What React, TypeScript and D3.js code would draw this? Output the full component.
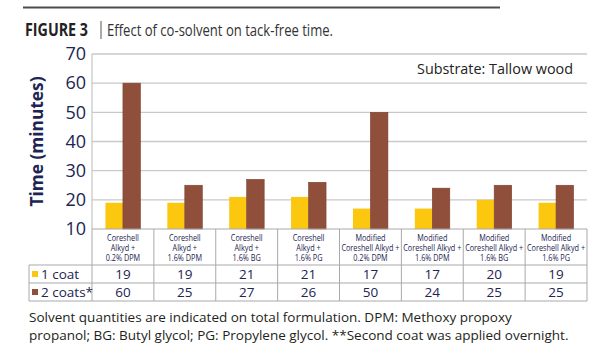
import React from 'react';
import * as d3 from 'd3';

const categories = [
    ['Coreshell', 'Alkyd +', '0.2% DPM'],
    ['Coreshell', 'Alkyd +', '1.6% DPM'],
    ['Coreshell', 'Alkyd +', '1.6% BG'],
    ['Coreshell', 'Alkyd +', '1.6% PG'],
    ['Modified', 'Coreshell Alkyd +', '0.2% DPM'],
    ['Modified', 'Coreshell Alkyd +', '1.6% DPM'],
    ['Modified', 'Coreshell Alkyd +', '1.6% BG'],
    ['Modified', 'Coreshell Alkyd +', '1.6% PG'],
];
const seriesNames = ['1 coat', '2 coats*'];
const oneCoat = [19, 19, 21, 21, 17, 17, 20, 19];
const twoCoats = [60, 25, 27, 26, 50, 24, 25, 25];
const yTicks = [10, 20, 30, 40, 50, 60, 70];
const footnote = [
    'Solvent quantities are indicated on total formulation. DPM: Methoxy propoxy',
    'propanol; BG: Butyl glycol; PG: Propylene glycol. **Second coat was applied overnight.',
];

const W = 615, H = 350;
const navy = '#1d2553';
const colors = ['#fcc70f', '#8f4f3b'];
const gridColor = '#c9c9c9';
const font = '"Open Sans", sans-serif';

const App: React.FC = () => {
    const left = 92, right = 587, top = 54, bottom = 229;
    const tableLeft = 29;
    const rowTops = [bottom, 265, 283, 301];

    const ids = categories.map((_, i) => String(i));
    const x = d3.scaleBand().domain(ids).range([left, right]);
    const xs = d3.scaleBand().domain(seriesNames).range([0, x.bandwidth()]).paddingOuter(0.77);
    const y = d3.scaleLinear().domain([10, 70]).range([bottom, top]);
    const series = [oneCoat, twoCoats];

    return (
        <svg width={W} height={H} style={{ position: 'absolute', left: 0, top: 0, background: '#fff' }}
            fontFamily={font}>
            <line x1={23} x2={500} y1={7.5} y2={7.5} stroke="#4d4d4d" strokeWidth={2} />
            <text x={25} y={36} fontSize={18} fontWeight={700} fill="#222" textLength={63}
                lengthAdjust="spacingAndGlyphs">FIGURE 3</text>
            <line x1={101} x2={101} y1={21} y2={39} stroke="#555" strokeWidth={1} />
            <text x={107} y={36} fontSize={16} fill="#333" textLength={226}
                lengthAdjust="spacingAndGlyphs">Effect of co-solvent on tack-free time.</text>

            {/* grid */}
            {yTicks.filter(t => t > 10).map(t => (
                <line key={t} x1={left} x2={right} y1={y(t)} y2={y(t)} stroke={gridColor} strokeWidth={1.3} />
            ))}
            <line x1={left} x2={left} y1={top} y2={bottom} stroke={gridColor} strokeWidth={1.3} />
            {yTicks.map(t => (
                <text key={t} x={86} y={y(t)} dy="0.35em" textAnchor="end" fontSize={18} fill={navy}>{t}</text>
            ))}
            <text transform={`translate(37,${(top + bottom) / 2}) rotate(-90)`} textAnchor="middle"
                dy="0.35em" fontSize={17} fontWeight={700} fill={navy} textLength={130}
                lengthAdjust="spacingAndGlyphs">Time (minutes)</text>
            <text x={573} y={69} dy="0.35em" textAnchor="end" fontSize={15} fill="#222" textLength={156}
                lengthAdjust="spacingAndGlyphs">Substrate: Tallow wood</text>

            {/* bars */}
            {series.map((vals, s) => vals.map((v, i) => (
                <rect key={`${s}-${i}`} x={(x(ids[i]) ?? 0) + (xs(seriesNames[s]) ?? 0)} y={y(v)}
                    width={xs.bandwidth()} height={bottom - y(v)} fill={colors[s]}
                    stroke={s === 1 ? '#7a3f2e' : 'none'} strokeWidth={0.6} />
            )))}

            {/* table */}
            {rowTops.map((ry, k) => (
                <line key={ry} x1={k === 0 ? left : tableLeft} x2={right} y1={ry} y2={ry}
                    stroke="#a9a9a9" strokeWidth={1} />
            ))}
            <line x1={tableLeft} x2={tableLeft} y1={rowTops[1]} y2={rowTops[3]} stroke="#a9a9a9" />
            {ids.map(id => (
                <line key={id} x1={x(id)} x2={x(id)} y1={bottom} y2={rowTops[3]} stroke="#a9a9a9" />
            ))}
            <line x1={right} x2={right} y1={bottom} y2={rowTops[3]} stroke="#a9a9a9" />

            {categories.map((lines, i) => (
                <g key={i} transform={`translate(${(x(ids[i]) ?? 0) + x.bandwidth() / 2},0)`}>
                    {lines.map((ln, j) => (
                        <text key={j} transform={`translate(0,${238.5 + j * 9.6}) scale(0.86,1)`} dy="0.35em"
                            textAnchor="middle" fontSize={8.5} fill={navy}>{ln}</text>
                    ))}
                </g>
            ))}

            {series.map((vals, s) => (
                <g key={s}>
                    <rect x={32} y={(rowTops[s + 1] + rowTops[s + 2]) / 2 - 3} width={6} height={6} fill={colors[s]} />
                    <text x={41} y={(rowTops[s + 1] + rowTops[s + 2]) / 2} dy="0.35em" fontSize={13.5}
                        fill={navy}>{seriesNames[s]}</text>
                    {vals.map((v, i) => (
                        <text key={i} x={(x(ids[i]) ?? 0) + x.bandwidth() / 2}
                            y={(rowTops[s + 1] + rowTops[s + 2]) / 2} dy="0.35em" textAnchor="middle"
                            fontSize={13.5} fill={navy}>{v}</text>
                    ))}
                </g>
            ))}

            {footnote.map((ln, i) => (
                <text key={i} x={29} y={322 + i * 18} fontSize={13.5} fill="#231f20">{ln}</text>
            ))}
        </svg>
    );
};

export default App;
